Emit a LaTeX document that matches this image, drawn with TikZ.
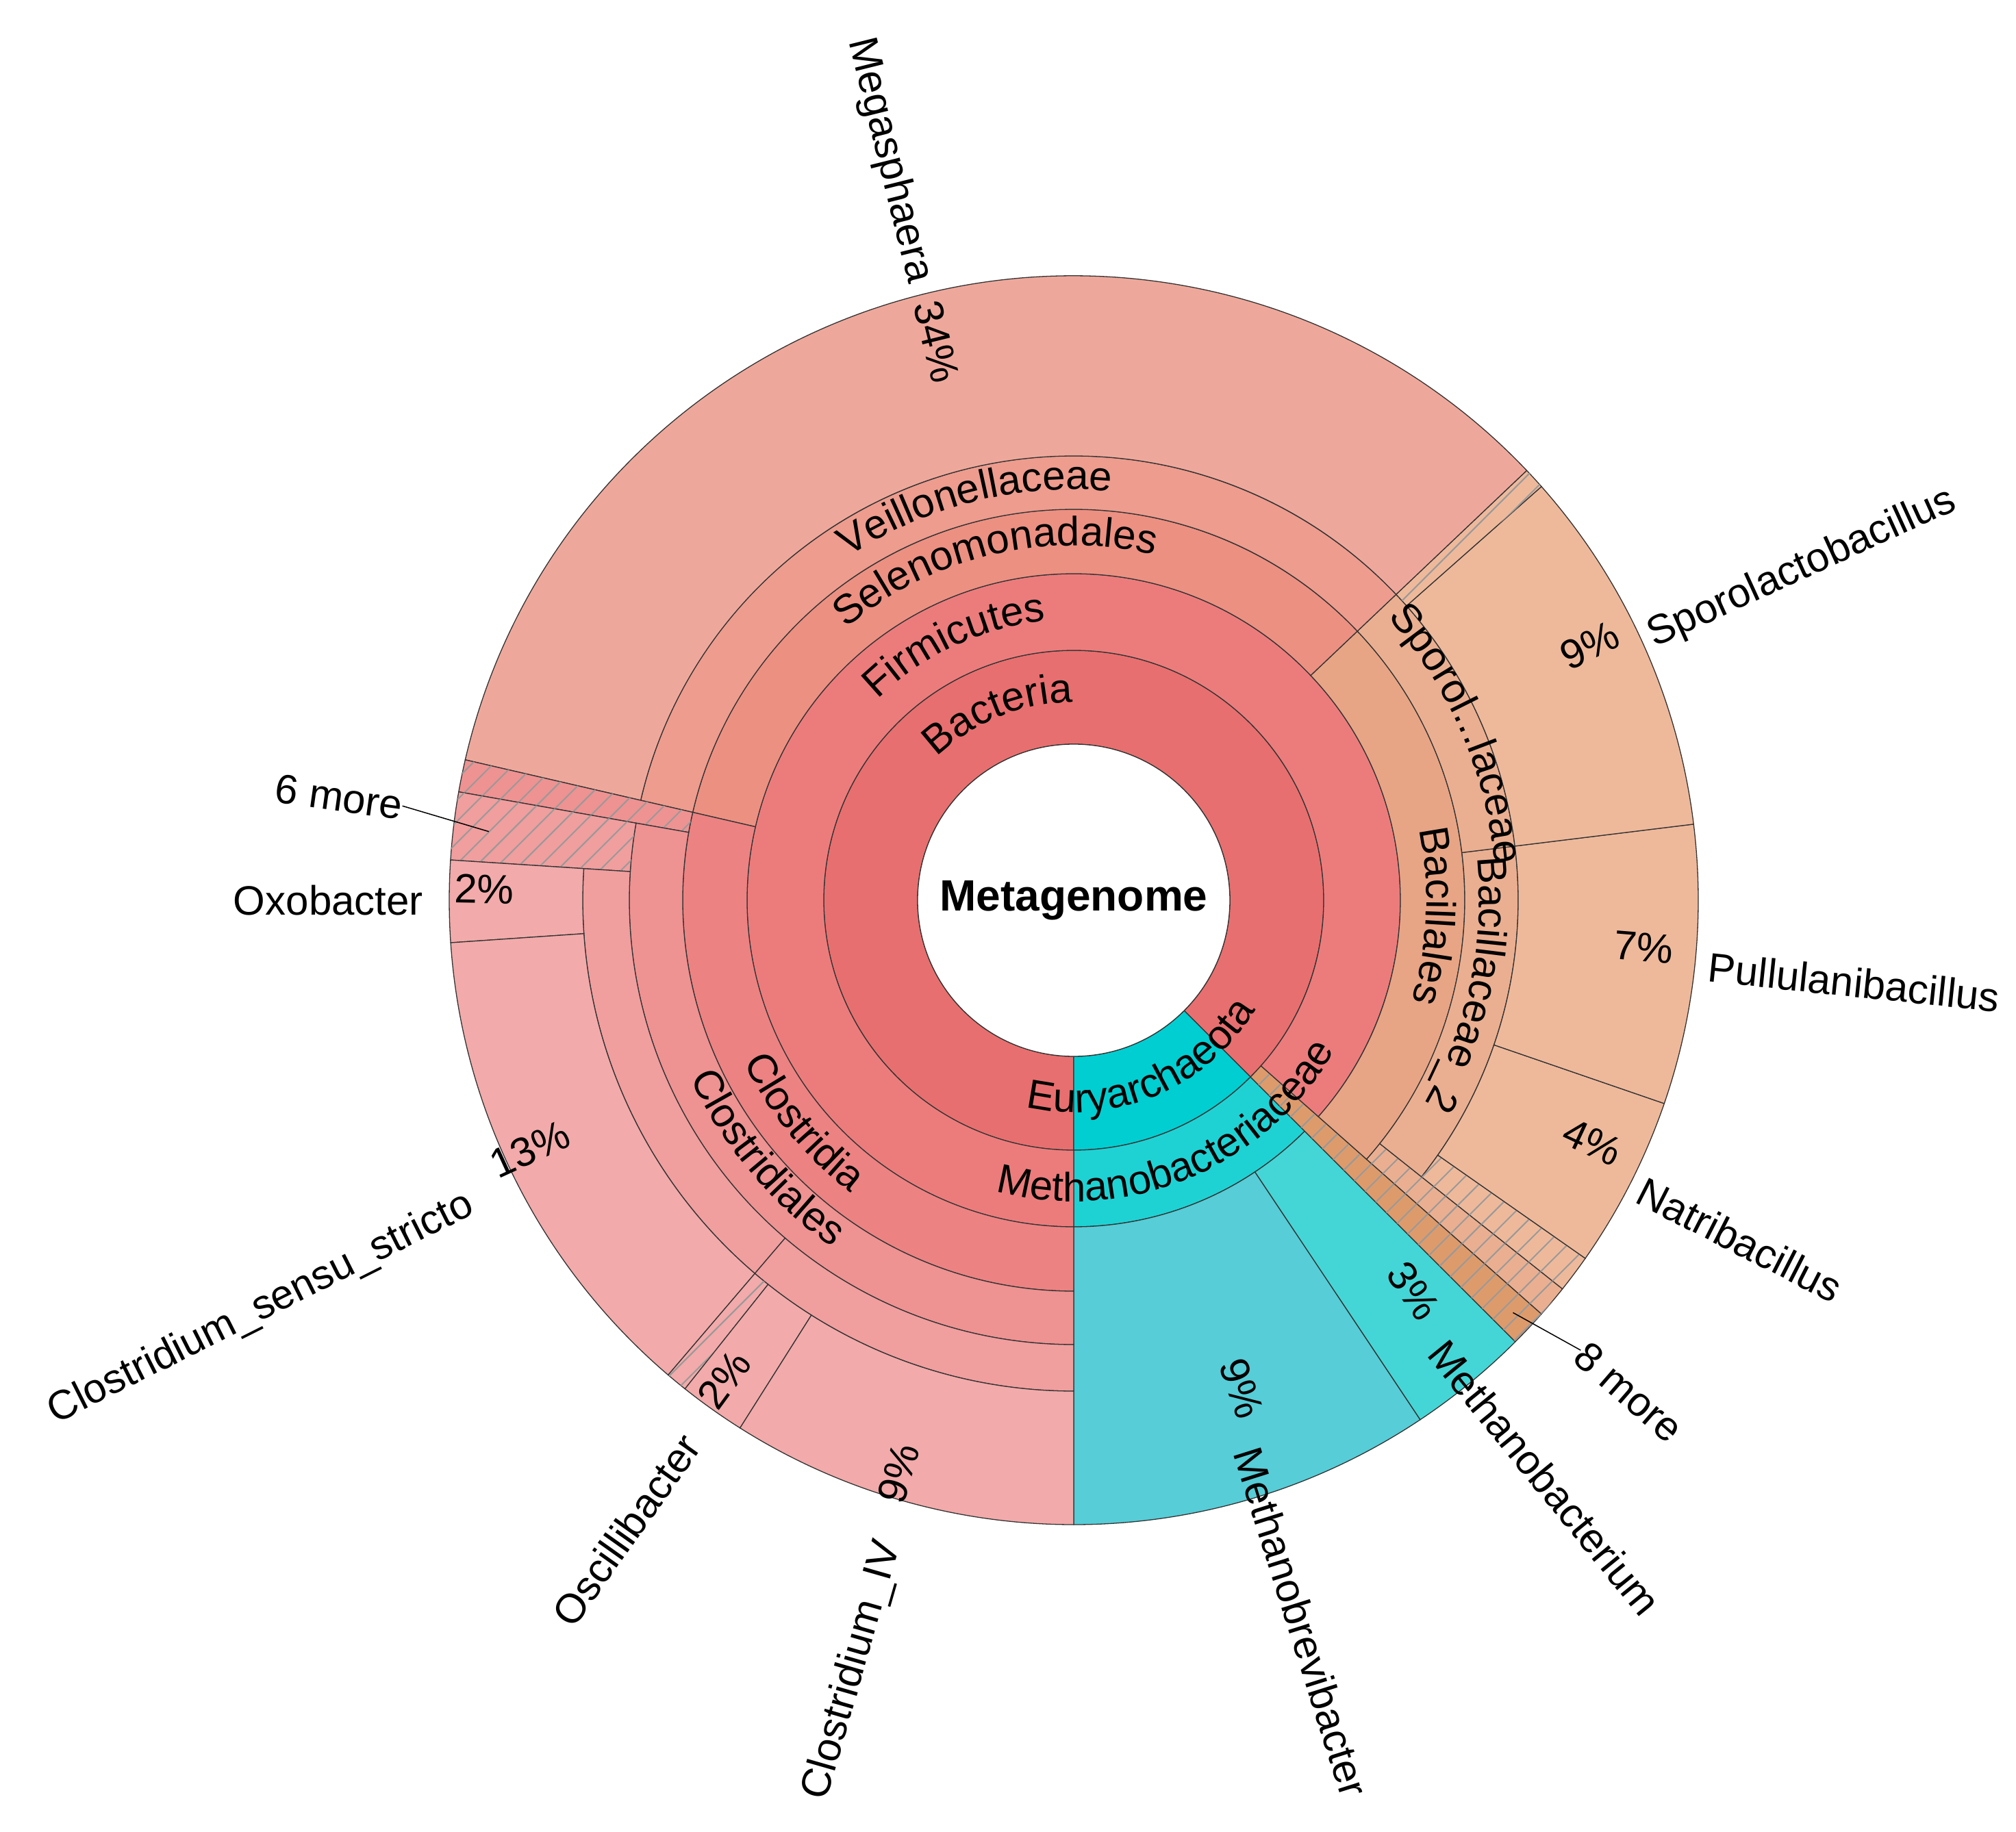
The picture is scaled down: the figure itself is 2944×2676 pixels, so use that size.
\documentclass[tikz,border=0pt]{standalone}
\usepackage{fontspec}
\setmainfont{Liberation Sans}
\usetikzlibrary{patterns.meta,decorations.text}
\definecolor{cBac}{RGB}{232,111,111}
\definecolor{cFir}{RGB}{236,124,124}
\definecolor{cSel}{RGB}{236,144,130}
\definecolor{cVei}{RGB}{237,156,142}
\definecolor{cMeg}{RGB}{238,168,155}
\definecolor{cCla}{RGB}{236,130,130}
\definecolor{cCle}{RGB}{238,146,146}
\definecolor{cFam}{RGB}{240,158,158}
\definecolor{cGen}{RGB}{242,170,170}
\definecolor{cBal}{RGB}{231,165,133}
\definecolor{cBfa}{RGB}{234,175,145}
\definecolor{cBge}{RGB}{238,185,155}
\definecolor{cOth}{RGB}{221,155,108}
\definecolor{cEur}{RGB}{0,206,209}
\definecolor{cMfa}{RGB}{30,210,212}
\definecolor{cMbr}{RGB}{86,205,215}
\definecolor{cMba}{RGB}{68,214,214}
\newcommand\krsec[5]{\draw[seg,#5] (#1:#3pt) arc[start angle=#1,end angle=#2,radius=#3pt] -- (#2:#4pt) arc[start angle=#2,end angle=#1,radius=#4pt] -- cycle;}
\newcommand\krhat[5]{\draw[seg,fill=#5,postaction={pattern={Lines[angle=45,distance=22pt,line width=2pt]},pattern color=black!40}] (#1:#3pt) arc[start angle=#1,end angle=#2,radius=#3pt] -- (#2:#4pt) arc[start angle=#2,end angle=#1,radius=#4pt] -- cycle;}
\newcommand\cwlab[3]{\path[decorate,decoration={text along path,text align=center,text={|\fontsize{60}{70}\selectfont|#3}}] (#1+60:#2pt) arc[start angle=#1+60,end angle=#1-60,radius=#2pt];}
\newcommand\ccwlab[3]{\path[decorate,decoration={text along path,text align=center,text={|\fontsize{60}{70}\selectfont|#3}}] (#1-60:#2pt) arc[start angle=#1-60,end angle=#1+60,radius=#2pt];}
\begin{document}
\begin{tikzpicture}[x=1pt,y=1pt,
  seg/.style={draw=black!80,line width=1.3pt},
  lab/.style={font=\fontsize{60}{70}\selectfont,inner sep=0pt},
  pct/.style={font=\fontsize{60}{70}\selectfont,inner sep=0pt}]
\useasboundingbox (-1568,-1361) rectangle (1376,1315);
% Bacteria / Archaea
\krsec{-45}{270}{228}{365}{fill=cBac}
\krsec{-90}{-45}{228}{365}{fill=cEur}
\krsec{-90}{-45}{365}{477}{fill=cMfa}
\krsec{-90}{-56.3}{477}{912}{fill=cMbr}
\krsec{-56.3}{-45}{477}{912}{fill=cMba}
\krhat{-45}{-41.5}{365}{912}{cOth}
\krsec{-41.5}{270}{365}{477}{fill=cFir}
% Bacillales
\krsec{-41.5}{43.5}{477}{571}{fill=cBal}
\krhat{-41.5}{-38.5}{571}{912}{cBfa}
\krsec{-38.5}{7}{571}{649}{fill=cBfa}
\krhat{-38.5}{-35}{649}{912}{cBge}
\krsec{-35}{-19}{649}{912}{fill=cBge}
\krsec{-19}{7}{649}{912}{fill=cBge}
\krsec{7}{43.5}{571}{649}{fill=cBfa}
\krsec{7}{41.5}{649}{912}{fill=cBge}
\krhat{41.5}{43.5}{649}{912}{cBge}
% Negativicutes
\krsec{43.5}{167}{477}{571}{fill=cSel}
\krsec{43.5}{167}{571}{649}{fill=cVei}
\krsec{43.5}{167}{649}{912}{fill=cMeg}
% Clostridia
\krsec{167}{270}{477}{571}{fill=cCla}
\krhat{167}{170}{571}{912}{cCle}
\krsec{170}{270}{571}{649}{fill=cCle}
\krhat{170}{176.3}{649}{912}{cFam}
\krsec{176.3}{229.5}{649}{717}{fill=cFam}
\krsec{176.3}{183.9}{717}{912}{fill=cGen}
\krsec{183.9}{229.5}{717}{912}{fill=cGen}
\krsec{229.5}{270}{649}{717}{fill=cFam}
\krhat{229.5}{231.5}{717}{912}{cGen}
\krsec{231.5}{237.7}{717}{912}{fill=cGen}
\krsec{237.7}{270}{717}{912}{fill=cGen}
% centre
\draw[seg,fill=white] (0,0) circle[radius=228pt];
\node[font=\fontsize{64}{70}\selectfont\bfseries,inner sep=0pt] (root) at (0,0) {Metagenome};
% ring labels
\cwlab{112}{289}{Bacteria}
\cwlab{115}{410}{Firmicutes}
\cwlab{103.4}{518}{Selenomonadales}
\cwlab{104}{600}{Veillonellaceae}
\cwlab{23.5}{617}{Sporol...laceae}
\cwlab{-2.5}{515}{Bacillales}
\cwlab{-12}{592}{Bacillaceae{\_}2}
\ccwlab{219.4}{537}{Clostridia}
\ccwlab{220}{617}{Clostridiales}
\ccwlab{-67}{310}{Euryarchaeota}
\ccwlab{-67.5}{440}{Methanobacteriaceae}
% percentages
\node[pct,rotate=-76.2] (p1) at (103.8:840pt) {34\%};
\node[pct,rotate=26] (p2) at (26.3:840pt) {9\%};
\node[pct,rotate=-4.7] (p3) at (-4.7:835pt) {7\%};
\node[pct,rotate=-25] (p4) at (-25:836pt) {4\%};
\node[pct,rotate=-55] (p5) at (-49:756pt) {3\%};
\node[pct,rotate=-71] (p6) at (-71:754pt) {9\%};
\node[pct,rotate=73] (p7) at (253:875pt) {9\%};
\node[pct,rotate=53.9] (p8) at (233.9:867pt) {2\%};
\node[pct,rotate=24.6] (p9) at (204.6:874pt) {13\%};
\node[pct,rotate=-1.1] (p10) at (178.9:861pt) {2\%};
% outer labels
\node[lab,anchor=east,rotate=-76] (megas) at (104:930pt) {Megasphaera};
\node[lab,anchor=west,rotate=24.5] (sporo) at (24.5:925pt) {Sporolactobacillus};
\node[lab,anchor=west,rotate=-6] (pullu) at (-6:932pt) {Pullulanibacillus};
\node[lab,anchor=west,rotate=-27] (natri) at (-27:928pt) {Natribacillus};
\node[lab,anchor=west,rotate=-41] (m8) at (-41.6:990pt) {8 more};
\node[lab,anchor=west,rotate=-50.8] (mbact) at (-50.8:840pt) {Methanobacterium};
\node[lab,anchor=west,rotate=-72.5] (mbrev) at (-72.5:840pt) {Methanobrevibacter};
\node[lab,anchor=east,rotate=74] (civ) at (254:975pt) {Clostridium\_IV};
\node[lab,anchor=east,rotate=54.6] (osc) at (234.6:965pt) {Oscillibacter};
\node[lab,anchor=east,rotate=26.7] (css) at (206.7:985pt) {Clostridium\_sensu\_stricto};
\node[lab,anchor=east,rotate=0] (oxo) at (180:950pt) {Oxobacter};
\node[lab,anchor=east,rotate=-8] (m6) at (172:990pt) {6 more};
\coordinate (c8) at (-43.2:880pt);
\coordinate (c6) at (173.3:860pt);
\draw[line width=1.5pt] (c8) -- (m8.west);
\draw[line width=1.5pt] (c6) -- (m6.east);
\end{tikzpicture}
\end{document}
